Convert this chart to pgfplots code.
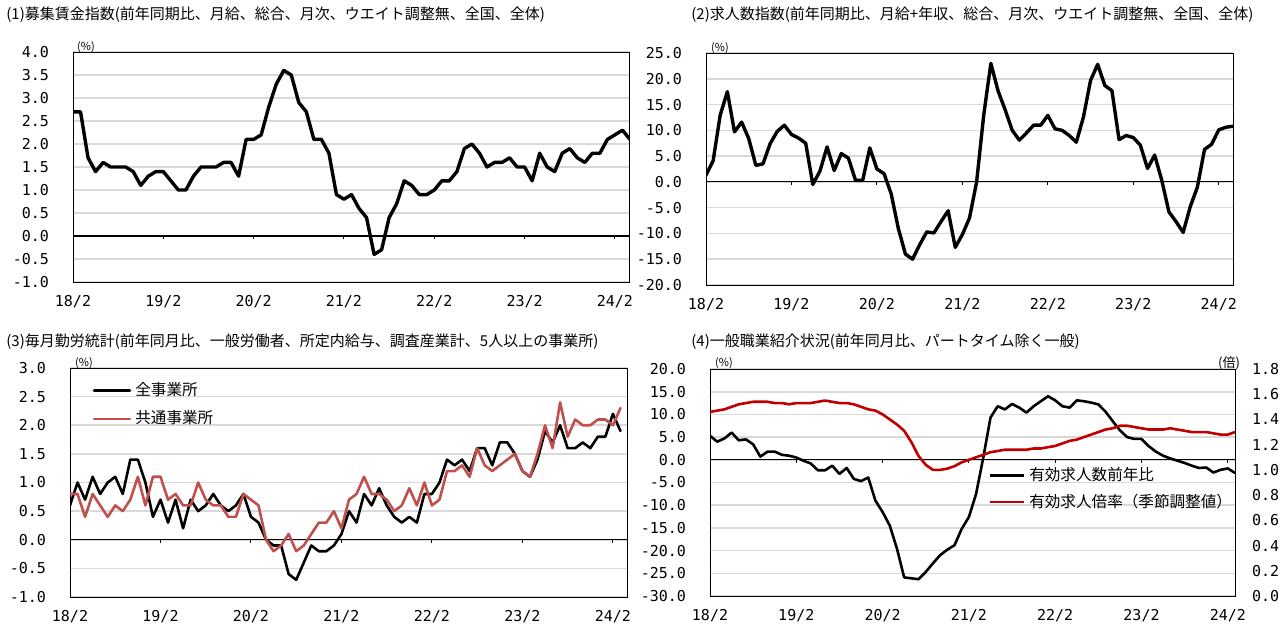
\documentclass[border=0pt]{standalone}
\usepackage{fontspec}
\setmainfont{Noto Sans CJK JP}
\newfontfamily\tickfont{DejaVu Sans Mono}
\usepackage{pgfplots}
\usepackage{pgfplotstable}
\pgfplotsset{compat=1.18}
\definecolor{gridgray}{HTML}{D9D9D9}
\definecolor{legred}{HTML}{C0504D}
\definecolor{ratiored}{HTML}{C00000}

\pgfplotstableread{
m p1 p2 p3a p3b p4a p4b
0 2.7 1.3 0.6 0.8 5.3 1.46
1 2.7 4.1 1.0 0.8 4.0 1.47
2 1.7 13.0 0.7 0.4 4.7 1.48
3 1.4 17.5 1.1 0.8 6.0 1.50
4 1.6 9.7 0.8 0.6 4.3 1.52
5 1.5 11.6 1.0 0.4 4.5 1.53
6 1.5 8.4 1.1 0.6 3.4 1.54
7 1.5 3.2 0.8 0.5 0.7 1.54
8 1.4 3.5 1.4 0.7 1.8 1.54
9 1.1 7.4 1.4 1.1 1.8 1.53
10 1.3 9.8 1.0 0.6 1.1 1.53
11 1.4 11.0 0.4 1.1 0.9 1.52
12 1.4 9.2 0.7 1.1 0.5 1.53
13 1.2 8.5 0.3 0.7 -0.2 1.53
14 1.0 7.5 0.7 0.8 -0.8 1.53
15 1.0 -0.5 0.2 0.6 -2.3 1.54
16 1.3 2.1 0.7 0.6 -2.3 1.55
17 1.5 6.8 0.5 1.0 -1.3 1.54
18 1.5 2.2 0.6 0.7 -3.1 1.53
19 1.5 5.5 0.8 0.6 -1.8 1.53
20 1.6 4.6 0.6 0.6 -4.2 1.52
21 1.6 0.3 0.5 0.4 -4.7 1.50
22 1.3 0.3 0.6 0.4 -3.9 1.48
23 2.1 6.6 0.8 0.8 -9.0 1.47
24 2.1 2.5 0.4 0.7 -11.5 1.44
25 2.2 1.6 0.3 0.6 -14.5 1.40
26 2.8 -2.3 0.0 0.0 -19.6 1.36
27 3.3 -9.0 -0.1 -0.2 -25.9 1.31
28 3.6 -14.0 -0.1 -0.1 -26.1 1.22
29 3.5 -15.0 -0.6 0.1 -26.3 1.11
30 2.9 -12.2 -0.7 -0.2 -24.7 1.04
31 2.7 -9.7 -0.4 -0.1 -22.8 1.00
32 2.1 -9.9 -0.1 0.1 -21.0 1.00
33 2.1 -7.7 -0.2 0.3 -19.8 1.01
34 1.8 -5.6 -0.2 0.3 -18.8 1.03
35 0.9 -12.7 -0.1 0.5 -15.2 1.06
36 0.8 -10.2 0.1 0.2 -12.6 1.08
37 0.9 -7.0 0.5 0.7 -7.5 1.10
38 0.6 0.0 0.3 0.8 0.5 1.12
39 0.4 13.0 0.8 1.1 9.3 1.14
40 -0.4 23.0 0.6 0.8 11.8 1.15
41 -0.3 17.7 0.9 0.8 11.1 1.16
42 0.4 14.0 0.6 0.7 12.3 1.16
43 0.7 10.0 0.4 0.5 11.5 1.16
44 1.2 8.1 0.3 0.6 10.4 1.16
45 1.1 9.5 0.4 0.9 11.8 1.17
46 0.9 11.0 0.3 0.6 12.9 1.17
47 0.9 11.0 0.8 1.0 14.0 1.18
48 1.0 12.9 0.8 0.6 13.1 1.19
49 1.2 10.3 1.0 0.7 11.8 1.21
50 1.2 10.0 1.4 1.2 11.5 1.23
51 1.4 9.0 1.3 1.2 13.1 1.24
52 1.9 7.7 1.4 1.3 12.9 1.26
53 2.0 12.6 1.2 1.1 12.6 1.28
54 1.8 19.7 1.6 1.6 12.2 1.30
55 1.5 22.8 1.6 1.3 10.6 1.32
56 1.6 18.7 1.3 1.2 8.5 1.33
57 1.6 17.7 1.7 1.3 6.5 1.35
58 1.7 8.2 1.7 1.4 5.0 1.35
59 1.5 9.0 1.5 1.5 4.6 1.34
60 1.5 8.6 1.2 1.2 4.6 1.33
61 1.2 7.1 1.1 1.1 3.0 1.32
62 1.8 2.6 1.4 1.5 1.8 1.32
63 1.5 5.2 1.9 2.0 0.9 1.32
64 1.4 0.3 1.7 1.6 0.3 1.33
65 1.8 -5.8 2.0 2.4 -0.2 1.32
66 1.9 -7.7 1.6 1.8 -0.7 1.31
67 1.7 -9.8 1.6 2.1 -1.3 1.30
68 1.6 -4.8 1.7 2.0 -1.8 1.30
69 1.8 -1.0 1.6 2.0 -1.7 1.30
70 1.8 6.3 1.8 2.1 -2.8 1.29
71 2.1 7.3 1.8 2.1 -2.2 1.28
72 2.2 10.1 2.2 2.0 -1.9 1.28
73 2.3 10.6 1.9 2.3 -2.9 1.30
74 2.1 10.8 nan nan nan nan
}\datatable

\pgfplotsset{
  numfmt/.style={
    /pgf/number format/assume math mode=true,
    /pgf/number format/fixed,
    /pgf/number format/fixed zerofill,
    /pgf/number format/precision=1,
  },
  panel/.style={
    scale only axis,
    xmin=0, xmax=74,
    xtick={0,12,24,36,48,60,72},
    xticklabels={18/2,19/2,20/2,21/2,22/2,23/2,24/2},
    tick style={draw=none},
    ymajorgrids,
    major grid style={draw=gridgray, line width=0.8pt},
    axis line style={black, line width=0.5pt},
    tick label style={font=\tickfont\fontsize{7.5}{8}\selectfont},
    numfmt,
    yticklabel style={/tikz/xshift=-8.5pt},
    xticklabel style={/tikz/yshift=-3pt},
    every axis plot/.append style={line join=round, line cap=round},
  },
}
\newcommand{\zeroaxis}[1]{%
  \draw[black, line width=0.6pt] (axis cs:0,0) -- (axis cs:#1,0);
  \pgfplotsinvokeforeach{12,24,36,48,60,72}{\draw[black, line width=0.5pt] (axis cs:##1,0) -- ++(0pt,-1.6pt);}
}

\begin{document}
\begin{tikzpicture}
\path[use as bounding box] (0pt,0pt) rectangle (640pt,-316pt);

% ---------- Panel 1 ----------
\node[anchor=west, inner sep=0pt, font=\fontsize{7.5}{9}\selectfont] at (3pt,-7.5pt) {(1)募集賃金指数(前年同期比、月給、総合、月次、ウエイト調整無、全国、全体)};
\begin{axis}[panel, at={(36.5pt,-141pt)}, anchor=south west, width=278.5pt, height=115pt,
  ymin=-1, ymax=4, ytick={-1,-0.5,0,0.5,1,1.5,2,2.5,3,3.5,4}]
  \zeroaxis{74}
  \addplot[black, line width=1.7pt] table[x=m, y=p1] {\datatable};
\end{axis}
\node[font=\fontsize{5.5}{6}\selectfont, inner sep=0pt] at (43pt,-23.5pt) {(\%)};

% ---------- Panel 2 ----------
\node[anchor=west, inner sep=0pt, font=\fontsize{7.5}{9}\selectfont] at (345.5pt,-7.5pt) {(2)求人数指数(前年同期比、月給+年収、総合、月次、ウエイト調整無、全国、全体)};
\begin{axis}[panel, at={(353pt,-142.5pt)}, anchor=south west, width=263.5pt, height=116pt,
  ymin=-20, ymax=25, ytick={-20,-15,-10,-5,0,5,10,15,20,25}]
  \zeroaxis{74}
  \addplot[black, line width=1.7pt] table[x=m, y=p2] {\datatable};
\end{axis}
\node[font=\fontsize{5.5}{6}\selectfont, inner sep=0pt] at (360pt,-24pt) {(\%)};

% ---------- Panel 3 ----------
\node[anchor=west, inner sep=0pt, font=\fontsize{7.5}{9}\selectfont] at (3pt,-171pt) {(3)毎月勤労統計(前年同月比、一般労働者、所定内給与、調査産業計、5人以上の事業所)};
\begin{axis}[panel, at={(35pt,-298.5pt)}, anchor=south west, width=279pt, height=114.5pt,
  ymin=-1, ymax=3, ytick={-1,-0.5,0,0.5,1,1.5,2,2.5,3},
  legend style={draw=none, fill=none, at={(0.04,0.955)}, anchor=north west,
    font=\fontsize{7.8}{9}\selectfont, row sep=2pt, inner sep=0pt},
  legend cell align=left,
  legend image code/.code={\draw[#1] (0pt,0pt) -- (18pt,0pt);}]
  \zeroaxis{74}
  \addplot[black, line width=1.3pt, forget plot] table[x=m, y=p3a] {\datatable};
  \addplot[legred, line width=1.3pt, forget plot] table[x=m, y=p3b] {\datatable};
  \addlegendimage{black, line width=1.3pt}
  \addlegendentry{全事業所}
  \addlegendimage{legred, line width=1.3pt}
  \addlegendentry{共通事業所}
\end{axis}
\node[font=\fontsize{5.5}{6}\selectfont, inner sep=0pt] at (42pt,-181.5pt) {(\%)};

% ---------- Panel 4 ----------
\node[anchor=west, inner sep=0pt, font=\fontsize{7.5}{9}\selectfont] at (345.5pt,-171pt) {(4)一般職業紹介状況(前年同月比、パートタイム除く一般)};
\begin{axis}[panel, at={(355pt,-298pt)}, anchor=south west, width=262.5pt, height=113.5pt,
  xmax=73,
  ymin=-30, ymax=20, ytick={-30,-25,-20,-15,-10,-5,0,5,10,15,20}]
  \zeroaxis{73}
  \addplot[black, line width=1.3pt] table[x=m, y=p4a] {\datatable};
\end{axis}
\begin{axis}[scale only axis, at={(355pt,-298pt)}, anchor=south west, width=262.5pt, height=113.5pt,
  xmin=0, xmax=73, axis x line=none, axis y line*=right,
  ymin=0, ymax=1.8, ytick={0,0.2,0.4,0.6,0.8,1.0,1.2,1.4,1.6,1.8},
  tick style={draw=none},
  axis line style={black, line width=0.5pt},
  tick label style={font=\tickfont\fontsize{7.5}{8}\selectfont},
  numfmt,
  yticklabel style={/tikz/xshift=5pt},
  legend style={draw=none, fill=none, at={(0.53,0.585)}, anchor=north west,
    font=\fontsize{7.8}{9}\selectfont, row sep=1pt, inner sep=0pt},
  legend cell align=left,
  legend image code/.code={\draw[#1] (0pt,0pt) -- (17pt,0pt);}]
  \addlegendimage{black, line width=1.3pt}
  \addlegendentry{有効求人数前年比}
  \addplot[ratiored, line width=1.3pt, line join=round] table[x=m, y=p4b] {\datatable};
  \addlegendentry{有効求人倍率（季節調整値）}
\end{axis}
\node[font=\fontsize{5.5}{6}\selectfont, inner sep=0pt] at (362pt,-181.5pt) {(\%)};
\node[font=\fontsize{6.5}{7}\selectfont, inner sep=0pt] at (614.5pt,-181.5pt) {(倍)};
\end{tikzpicture}
\end{document}
